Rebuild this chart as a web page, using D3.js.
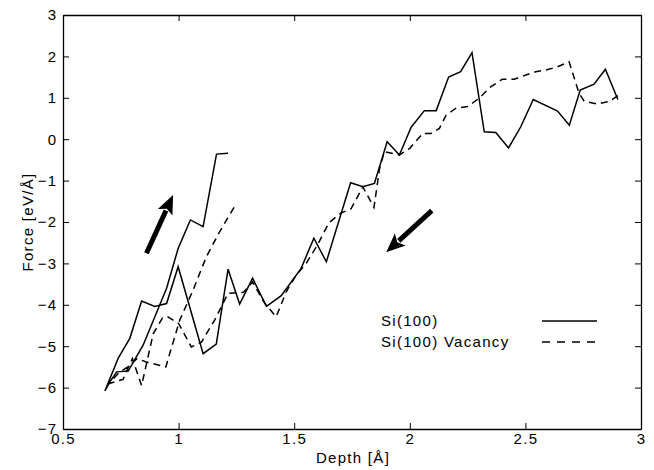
<!DOCTYPE html>
<html>
<head>
<meta charset="utf-8">
<script src="https://cdn.jsdelivr.net/npm/d3@7"></script>
<style>
  html, body { margin: 0; padding: 0; background: #fff; }
  svg { display: block; font-family: "Liberation Sans", Arial, Helvetica, sans-serif; }
  text { letter-spacing: 1.3px; }
</style>
</head>
<body>
<svg id="chart" width="654" height="470"></svg>
<script>
// ---- data ----
const xTicks = [0.5, 1, 1.5, 2, 2.5, 3];
const yTicks = [-7, -6, -5, -4, -3, -2, -1, 0, 1, 2, 3];
const seriesNames = ["Si(100)", "Si(100) Vacancy"];

const depthSolid = [2.90, 2.846, 2.797, 2.737, 2.69, 2.639, 2.534, 2.48, 2.427, 2.372, 2.322, 2.269, 2.22, 2.168, 2.114, 2.063, 2.006, 1.955, 1.902, 1.847, 1.797, 1.744, 1.639, 1.585, 1.53, 1.444, 1.38, 1.32, 1.264, 1.214, 1.163, 1.106, 0.998, 0.948, 0.897, 0.840, 0.789, 0.739, 0.681, 0.703, 0.732, 0.782, 0.847, 0.948, 0.998, 1.051, 1.106, 1.164, 1.214];
const forceSolid = [0.96, 1.69, 1.33, 1.19, 0.34, 0.68, 0.96, 0.30, -0.21, 0.16, 0.18, 2.09, 1.63, 1.50, 0.69, 0.69, 0.29, -0.38, -0.06, -1.07, -1.15, -1.05, -2.96, -2.39, -3.12, -3.78, -4.04, -3.36, -3.98, -3.14, -4.95, -5.18, -3.08, -3.97, -4.04, -3.91, -4.81, -5.29, -6.08, -5.86, -5.62, -5.60, -4.97, -3.60, -2.64, -1.95, -2.11, -0.36, -0.34];

const depthVacancy = [2.90, 2.862, 2.812, 2.754, 2.732, 2.689, 2.639, 2.589, 2.545, 2.502, 2.452, 2.40, 2.344, 2.30, 2.25, 2.20, 2.157, 2.128, 2.092, 2.056, 2.0, 1.955, 1.89, 1.869, 1.845, 1.797, 1.746, 1.700, 1.650, 1.60, 1.552, 1.509, 1.466, 1.422, 1.372, 1.32, 1.28, 1.214, 1.156, 1.099, 1.055, 1.0, 0.95, 0.93, 0.89, 0.84, 0.80, 0.76, 0.70, 0.74, 0.78, 0.82, 0.86, 0.945, 0.962, 1.005, 1.063, 1.12, 1.178, 1.25];
const forceVacancy = [1.05, 0.91, 0.85, 0.92, 1.11, 1.87, 1.75, 1.67, 1.63, 1.55, 1.45, 1.45, 1.24, 0.99, 0.79, 0.75, 0.58, 0.26, 0.14, 0.14, -0.22, -0.38, -0.30, -0.72, -1.65, -1.15, -1.68, -1.79, -2.02, -2.56, -3.0, -3.28, -3.68, -4.29, -3.96, -3.45, -3.70, -3.72, -4.37, -4.90, -5.02, -4.45, -4.28, -4.32, -4.70, -5.95, -5.30, -5.80, -5.90, -5.65, -5.50, -5.30, -5.38, -5.50, -5.17, -4.37, -3.64, -2.84, -2.23, -1.55];

// arrows annotating the direction of travel: [x0, y0, x1, y1] in data units
const arrowUp = [0.861, -2.756, 0.976, -1.348];
const arrowDown = [2.095, -1.727, 1.898, -2.732];

// ---- layout ----
const W = 654, H = 470;
const margin = { left: 63, right: 13, top: 15, bottom: 41 };
const iw = W - margin.left - margin.right;
const ih = H - margin.top - margin.bottom;
const FS = 15;

const svg = d3.select("#chart");
const g = svg.append("g").attr("transform", `translate(${margin.left},${margin.top})`);

const x = d3.scaleLinear().domain([0.5, 3]).range([0, iw]);
const y = d3.scaleLinear().domain([-7, 3]).range([ih, 0]);

const fmtX = d => (d === 0.5 || d === 1.5 || d === 2.5) ? d.toFixed(1) : String(d);
const fmtY = d => d < 0 ? "\u2212" + Math.abs(d) : String(d);

// axes (MATLAB style: ticks inward on all four sides)
const tickLen = 6;
const axB = g.append("g").attr("transform", `translate(0,${ih})`)
  .call(d3.axisBottom(x).tickValues(xTicks).tickFormat(fmtX).tickSizeInner(-tickLen).tickSizeOuter(0).tickPadding(4));
const axT = g.append("g")
  .call(d3.axisTop(x).tickValues(xTicks).tickFormat("").tickSizeInner(-tickLen).tickSizeOuter(0));
const axL = g.append("g")
  .call(d3.axisLeft(y).tickValues(yTicks).tickFormat(fmtY).tickSizeInner(-tickLen).tickSizeOuter(0).tickPadding(5.5));
const axR = g.append("g").attr("transform", `translate(${iw},0)`)
  .call(d3.axisRight(y).tickValues(yTicks).tickFormat("").tickSizeInner(-tickLen).tickSizeOuter(0));

[axB, axT, axL, axR].forEach(a => {
  a.selectAll(".domain").attr("stroke", "#000").attr("stroke-width", 1.3);
  a.selectAll(".tick line").attr("stroke", "#000").attr("stroke-width", 1);
  a.selectAll("text").attr("font-size", FS).attr("fill", "#000")
    .attr("font-family", "'Liberation Sans', Arial, Helvetica, sans-serif");
});

// axis labels
svg.append("text")
  .attr("x", margin.left + iw / 2 + 1).attr("y", 463)
  .attr("text-anchor", "middle").attr("font-size", FS).attr("fill", "#000")
  .text("Depth [Å]");
svg.append("text")
  .attr("transform", `translate(33,${margin.top + ih / 2}) rotate(-90)`)
  .attr("text-anchor", "middle").attr("font-size", FS).attr("fill", "#000")
  .text("Force [eV/Å]");

// lines
const line = d3.line().x(d => x(d[0])).y(d => y(d[1]));
const solidData = depthSolid.map((d, i) => [d, forceSolid[i]]);
const vacData = depthVacancy.map((d, i) => [d, forceVacancy[i]]);

g.append("path").datum(solidData)
  .attr("d", line).attr("fill", "none").attr("stroke", "#000")
  .attr("stroke-width", 1.5).attr("stroke-linejoin", "miter");
g.append("path").datum(vacData)
  .attr("d", line).attr("fill", "none").attr("stroke", "#000")
  .attr("stroke-width", 1.5).attr("stroke-dasharray", "7,5");

// arrows
function drawArrow(a) {
  const x0 = x(a[0]), y0 = y(a[1]), x1 = x(a[2]), y1 = y(a[3]);
  const ang = Math.atan2(y1 - y0, x1 - x0);
  const headLen = 19, headHalf = 8;
  const bx = x1 - headLen * Math.cos(ang), by = y1 - headLen * Math.sin(ang);
  g.append("line").attr("x1", x0).attr("y1", y0).attr("x2", bx + 2 * Math.cos(ang)).attr("y2", by + 2 * Math.sin(ang))
    .attr("stroke", "#000").attr("stroke-width", 5);
  const px = -Math.sin(ang), py = Math.cos(ang);
  g.append("path")
    .attr("d", `M${x1},${y1}L${bx + px * headHalf},${by + py * headHalf}L${bx + 4 * Math.cos(ang)},${by + 4 * Math.sin(ang)}L${bx - px * headHalf},${by - py * headHalf}Z`)
    .attr("fill", "#000");
}
drawArrow(arrowUp);
drawArrow(arrowDown);

// legend
const legX = 381 - margin.left, legY = 321 - margin.top;
const leg = g.append("g");
seriesNames.forEach((name, i) => {
  const yy = legY + i * 21;
  leg.append("text").attr("x", legX).attr("y", yy + 5)
    .attr("font-size", FS).attr("fill", "#000").text(name);
  leg.append("line").attr("x1", 542 - margin.left).attr("x2", 597 - margin.left)
    .attr("y1", yy).attr("y2", yy)
    .attr("stroke", "#000").attr("stroke-width", 1.5)
    .attr("stroke-dasharray", i === 1 ? "8,7" : null);
});
</script>
</body>
</html>
